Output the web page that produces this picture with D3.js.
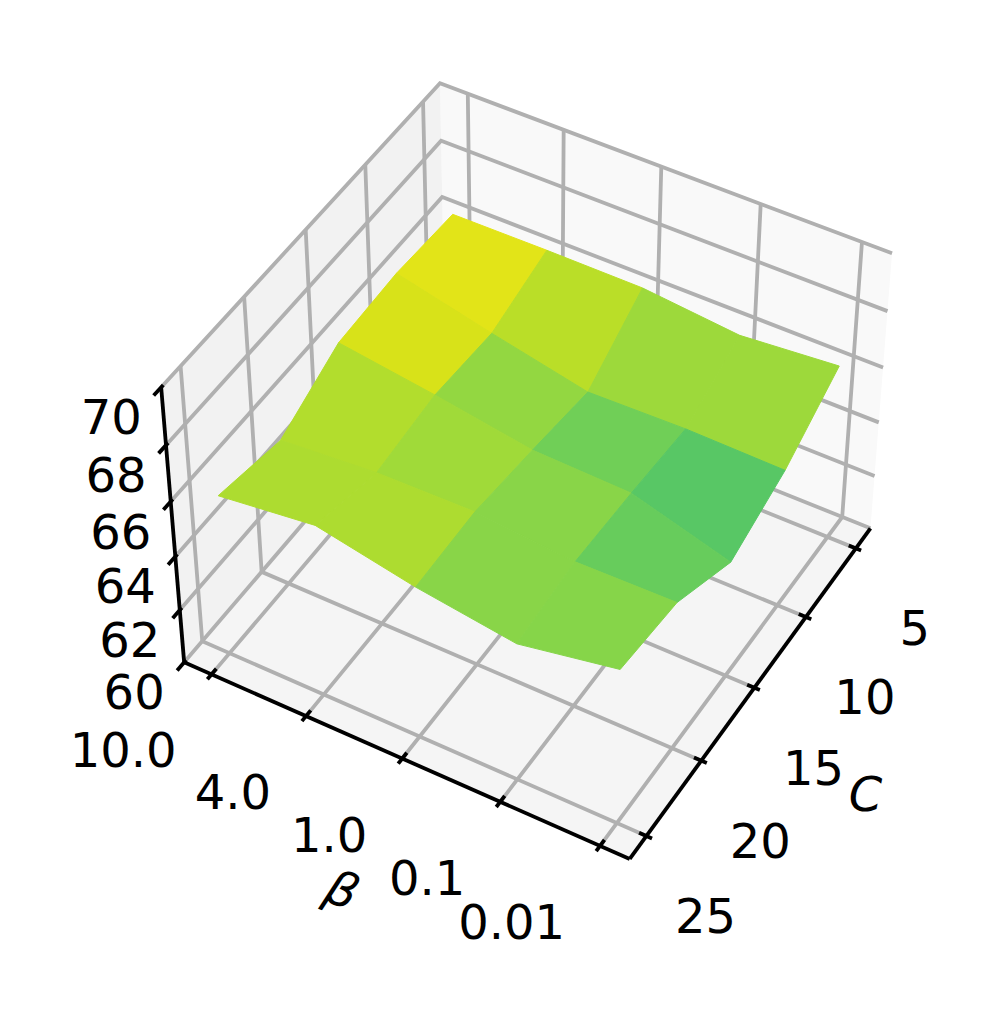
<!DOCTYPE html>
<html>
<head>
<meta charset="utf-8">
<script src="https://cdn.jsdelivr.net/npm/d3@7"></script>
<style>
  body { margin: 0; background: #fff; }
  text { font-family: "DejaVu Sans"; font-size: 48px; fill: #000; }
</style>
</head>
<body>
<div id="chart"></div>
<script>
// Categories and tick labels
const cValues = [5, 10, 15, 20, 25];
const betaValues = ['10.0', '4.0', '1.0', '0.1', '0.01'];
const zTicks = [60, 62, 64, 66, 68, 70];

// Accuracy for each beta, one list per C
const accC5 = [66.42, 66.44, 66.42, 66.08, 66.36];
const accC10 = [66.58, 65.78, 65.04, 65.12, 65.06];
const accC15 = [66.44, 65.96, 65.40, 65.30, 64.28];
const accC20 = [65.36, 65.64, 65.70, 65.40, 65.46];
const accC25 = [65.88, 66.30, 65.60, 65.10, 65.76];
const accuracy = [accC5, accC10, accC15, accC20, accC25];

// Chart size
const width = 997;
const height = 1020;

// Camera, same model as matplotlib's 3D axes
const elev = 45 * Math.PI / 180;
const azim = 30 * Math.PI / 180;
const dist = 16.87;
const focal = 4370;
const originX = 532.4;
const originY = 461.1;
const zHalf = 0.75;

// Data to unit box scales
const x = d3.scaleLinear().domain([5, 25]).range([0.065, 0.935]);
const y = d3.scalePoint().domain(betaValues).range([0.064, 0.936]);
const z = d3.scaleLinear().domain([60, 70]).range([0, 1]);
const color = d3.scaleSequential(d3.interpolateViridis).domain([60.25, 66.58]);

const back = [Math.cos(elev) * Math.cos(azim), Math.cos(elev) * Math.sin(azim), Math.sin(elev)];
const right = [-Math.sin(azim), Math.cos(azim), 0];
const up = [
  back[1] * right[2] - back[2] * right[1],
  back[2] * right[0] - back[0] * right[2],
  back[0] * right[1] - back[1] * right[0],
];
const dot = (a, b) => a[0] * b[0] + a[1] * b[1] + a[2] * b[2];

// Unit box point to screen, third value is the distance from the eye
function project([u, v, w]) {
  const p = [(u - 0.5) * 2, (v - 0.5) * 2, (w - 0.5) * 2 * zHalf];
  const depth = dist - dot(p, back);
  return [originX + focal * dot(p, right) / depth, originY - focal * dot(p, up) / depth, depth];
}

const line = d3.line().x((d) => project(d)[0]).y((d) => project(d)[1]);
const closedLine = d3.line().curve(d3.curveLinearClosed).x((d) => project(d)[0]).y((d) => project(d)[1]);

const svg = d3.select('#chart')
  .append('svg')
  .attr('width', width)
  .attr('height', height)
  .style('display', 'block');

// Panes
const panes = [
  { fill: '#f9f9f9', corners: [[0, 0, 0], [0, 1, 0], [0, 1, 1], [0, 0, 1]] },
  { fill: '#f2f2f2', corners: [[0, 0, 0], [1, 0, 0], [1, 0, 1], [0, 0, 1]] },
  { fill: '#f5f5f5', corners: [[0, 0, 0], [1, 0, 0], [1, 1, 0], [0, 1, 0]] },
];
svg.append('g').selectAll('path')
  .data(panes)
  .join('path')
  .attr('fill', (d) => d.fill)
  .attr('d', (d) => closedLine(d.corners));

// Grid lines bend round the panes
const gridLines = [
  ...cValues.map((c) => [[x(c), 1, 0], [x(c), 0, 0], [x(c), 0, 1]]),
  ...betaValues.map((b) => [[1, y(b), 0], [0, y(b), 0], [0, y(b), 1]]),
  ...zTicks.map((t) => [[1, 0, z(t)], [0, 0, z(t)], [0, 1, z(t)]]),
];
svg.append('g').selectAll('path')
  .data(gridLines)
  .join('path')
  .attr('fill', 'none')
  .attr('stroke', '#b0b0b0')
  .attr('stroke-width', 3.8)
  .attr('d', line);

// Axis lines and ticks
const axisLines = [
  [[1, 1, 0], [0, 1, 0]],
  [[1, 0, 0], [1, 1, 0]],
  [[1, 0, 0], [1, 0, 1]],
  ...cValues.map((c) => [[x(c), 0.984, 0], [x(c), 1.012, 0]]),
  ...betaValues.map((b) => [[0.983, y(b), 0], [1.015, y(b), 0]]),
  ...zTicks.map((t) => [[0.993, 0, z(t)], [1.025, 0, z(t)]]),
];
svg.append('g').selectAll('path')
  .data(axisLines)
  .join('path')
  .attr('fill', 'none')
  .attr('stroke', '#000')
  .attr('stroke-width', 3.8)
  .attr('d', line);

// Tick labels and axis titles, a fixed pixel offset from their place on the axis
const labels = [
  ...cValues.map((c) => ({ text: c, at: [x(c), 1, 0], dx: 59, dy: 80, anchor: 'middle' })),
  ...betaValues.map((b) => ({ text: b, at: [1, y(b), 0], dx: -35, dy: 76, anchor: 'end' })),
  ...zTicks.map((t) => ({ text: t, at: [1, 0, z(t)], dx: -50, dy: 30, anchor: 'middle' })),
  { text: 'C', at: [x(15), 1, 0], dx: 111, dy: 106, anchor: 'middle', italic: true },
  { text: 'β', at: [1, y('1.0'), 0], dx: -60, dy: 131, anchor: 'middle', italic: true, rotate: 22 },
];
svg.append('g').selectAll('text')
  .data(labels)
  .join('text')
  .attr('transform', (d) => {
    const p = project(d.at);
    return `translate(${p[0] + d.dx},${p[1] + d.dy}) rotate(${d.rotate || 0})`;
  })
  .attr('text-anchor', (d) => d.anchor)
  .attr('dominant-baseline', 'central')
  .style('font-style', (d) => (d.italic ? 'italic' : 'normal'))
  .text((d) => d.text);

// Surface, one facet per pair of neighbouring C and beta values, far facets first
const facets = d3.cross(d3.range(cValues.length - 1), d3.range(betaValues.length - 1))
  .map(([i, j]) => {
    const corners = [[i, j], [i + 1, j], [i + 1, j + 1], [i, j + 1]];
    return {
      points: corners.map(([a, b]) => [x(cValues[a]), y(betaValues[b]), z(accuracy[a][b])]),
      value: d3.mean(corners, ([a, b]) => accuracy[a][b]),
    };
  })
  .sort((a, b) => d3.descending(d3.mean(a.points, (p) => project(p)[2]), d3.mean(b.points, (p) => project(p)[2])));

svg.append('g').selectAll('path')
  .data(facets)
  .join('path')
  .attr('fill', (d) => color(d.value))
  .attr('stroke', (d) => color(d.value))
  .attr('stroke-width', 1)
  .attr('d', (d) => closedLine(d.points));
</script>
</body>
</html>
